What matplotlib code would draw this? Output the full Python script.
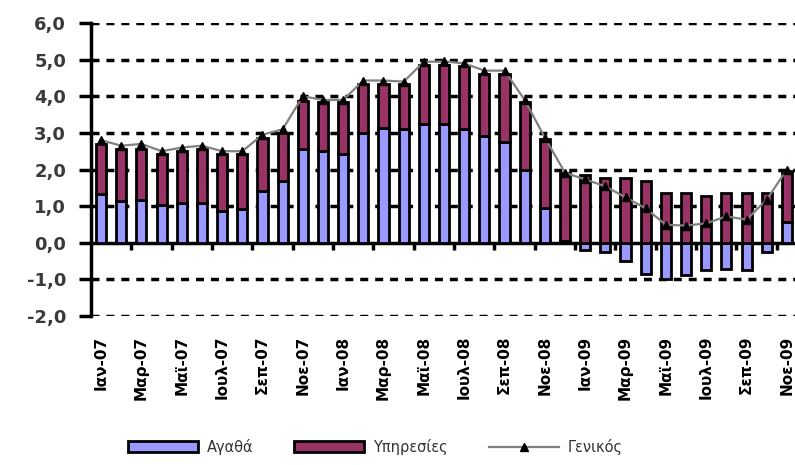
import matplotlib
matplotlib.use("Agg")
import matplotlib.pyplot as plt
import numpy as np

# Μήνες (Ιαν-07 ... Νοε-09)
months = ["Ιαν-07", "Φεβ-07", "Μαρ-07", "Απρ-07", "Μαϊ-07", "Ιουν-07", "Ιουλ-07", "Αυγ-07",
          "Σεπ-07", "Οκτ-07", "Νοε-07", "Δεκ-07",
          "Ιαν-08", "Φεβ-08", "Μαρ-08", "Απρ-08", "Μαϊ-08", "Ιουν-08", "Ιουλ-08", "Αυγ-08",
          "Σεπ-08", "Οκτ-08", "Νοε-08", "Δεκ-08",
          "Ιαν-09", "Φεβ-09", "Μαρ-09", "Απρ-09", "Μαϊ-09", "Ιουν-09", "Ιουλ-09", "Αυγ-09",
          "Σεπ-09", "Οκτ-09", "Νοε-09"]

agatha = [1.33, 1.13, 1.18, 1.02, 1.08, 1.08, 0.87, 0.93, 1.42, 1.68, 2.55, 2.50,
          2.41, 2.99, 3.12, 3.10, 3.24, 3.24, 3.10, 2.92, 2.74, 2.00, 0.94, 0.05,
          -0.20, -0.25, -0.50, -0.85, -0.98, -0.89, -0.75, -0.71, -0.75, -0.25, 0.58]

ypiresies = [1.37, 1.43, 1.38, 1.41, 1.42, 1.48, 1.56, 1.50, 1.45, 1.32, 1.33, 1.34,
             1.43, 1.35, 1.22, 1.24, 1.61, 1.61, 1.73, 1.70, 1.88, 1.84, 1.89, 1.86,
             1.86, 1.77, 1.77, 1.68, 1.36, 1.36, 1.27, 1.36, 1.36, 1.36, 1.38]

genikos = [2.80, 2.65, 2.70, 2.50, 2.60, 2.65, 2.50, 2.50, 2.95, 3.10, 4.00, 3.90,
           3.90, 4.43, 4.43, 4.40, 4.94, 4.95, 4.90, 4.70, 4.70, 3.90, 2.87, 1.91,
           1.73, 1.54, 1.24, 0.94, 0.49, 0.47, 0.53, 0.72, 0.63, 1.18, 2.00]

x = np.arange(len(months))
ag = np.array(agatha)
yp = np.array(ypiresies)
# οι υπηρεσίες στοιβάζονται πάνω από τα θετικά αγαθά, αλλιώς από το 0
base = np.where(ag > 0, ag, 0)

fig = plt.figure(figsize=(7.95, 4.65), dpi=100)
ax = fig.add_axes([0.1145, 0.3204, 0.888, 0.6301])

b1 = ax.bar(x, ag, width=0.5, color="#9999FF", edgecolor="black", linewidth=2, zorder=3)
b2 = ax.bar(x, yp, bottom=base, width=0.5, color="#993366", edgecolor="black", linewidth=2,
            zorder=3)
l1, = ax.plot(x, genikos, color="#808080", lw=1.6, marker="^", ms=6, mfc="black", mec="black",
              zorder=4)

ax.set_ylim(-2, 6)
ax.set_xlim(-0.5, len(months) - 0.5)

# πλέγμα
for v in [-2, -1, 1, 2, 3, 4, 5, 6]:
    ax.axhline(v, color="black", lw=2.5, linestyle=(0, (2.3, 2.0)), zorder=1)

ax.spines["top"].set_visible(False)
ax.spines["right"].set_visible(False)
ax.spines["bottom"].set_visible(False)
ax.spines["left"].set_linewidth(2.5)

ax.set_yticks(np.arange(-2, 7, 1))
ax.set_yticklabels([f"{v:.1f}".replace(".", ",") for v in np.arange(-2, 7, 1)])
ax.tick_params(axis="y", direction="out", length=9, width=2.5, pad=9,
               labelsize=13, labelcolor="#3a3a3a")
for t in ax.get_yticklabels():
    t.set_fontweight("bold")

ax.set_xticks(x[::2])
ax.set_xticklabels(months[::2], rotation=90, fontsize=11, fontweight="bold")
ax.tick_params(axis="x", length=0, pad=14)

# άξονας x στο μηδέν
sec = ax.secondary_xaxis(0.25)
sec.set_xticks(np.arange(1.5, len(months) - 1, 2))
sec.set_xticklabels([])
sec.tick_params(direction="out", length=5, width=2.5)
sec.spines["bottom"].set_linewidth(2.5)

fig.legend([b1, b2, l1], ["Αγαθά", "Υπηρεσίες", "Γενικός"],
           loc="center", bbox_to_anchor=(0.472, 0.039), ncol=3, frameon=False,
           fontsize=10.5, handlelength=4.8, handleheight=0.8, handletextpad=0.6,
           columnspacing=2.8, labelcolor="#333333")

fig.savefig("out.png", dpi=100)
